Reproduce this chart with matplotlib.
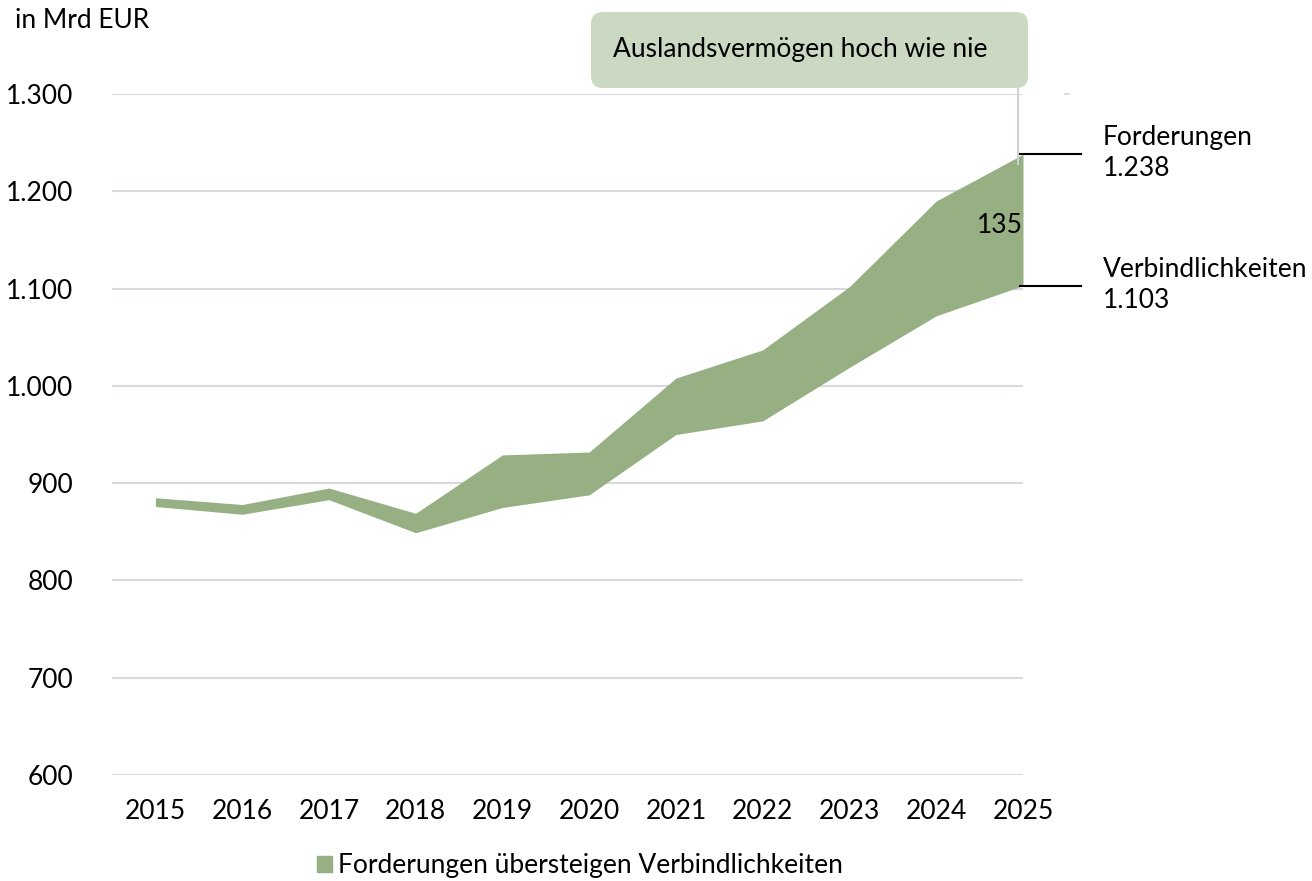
import numpy as np
import matplotlib.pyplot as plt
from matplotlib.patches import FancyBboxPatch, Patch
from matplotlib.lines import Line2D

plt.rcParams['font.family'] = ['Lato', 'DejaVu Sans']

years = [2015, 2016, 2017, 2018, 2019, 2020, 2021, 2022, 2023, 2024, 2025]
forderungen = [885, 878, 895, 869, 929, 932, 1008, 1037, 1102, 1190, 1238]
verbindlichkeiten = [876, 868, 883, 849, 875, 888, 950, 964, 1019, 1072, 1103]
yticks = [600, 700, 800, 900, 1000, 1100, 1200, 1300]
ytick_labels = ["600", "700", "800", "900", "1.000", "1.100", "1.200", "1.300"]

green = "#96af83"
grid_c = "#d6dade"
fs = 19

fig = plt.figure(figsize=(13.12, 8.81), dpi=100)
ax = fig.add_axes([112 / 1312, (881 - 775) / 881, (1023 - 112) / 1312, (775 - 94) / 881])

ax.fill_between(years, verbindlichkeiten, forderungen, color=green, lw=0, zorder=3, clip_on=False)

for t in yticks:
    ax.axhline(t, color=grid_c, lw=1.5, zorder=1)

ax.set_xlim(2014.5, 2025)
ax.set_ylim(600, 1300)
ax.set_yticks(yticks)
ax.set_yticklabels(ytick_labels)
ax.set_xticks(years)
ax.set_xticklabels([str(y) for y in years])
ax.tick_params(axis='y', length=0, pad=28, labelsize=fs)
ax.tick_params(axis='x', length=0, pad=17, labelsize=fs)
for s in ax.spines.values():
    s.set_visible(False)

# markers on the right
last_f = forderungen[-1]
last_v = verbindlichkeiten[-1]
for v in (last_f, last_v):
    ax.plot([2024.97, 2025.67], [v, v], color="black", lw=1.5, clip_on=False, zorder=4)

ax.annotate("Forderungen", (2025, last_f), xytext=(80, 17), textcoords='offset pixels',
            ha='left', va='center', fontsize=fs)
ax.annotate(f"{last_f/1000:.3f}", (2025, last_f), xytext=(80, -14), textcoords='offset pixels',
            ha='left', va='center', fontsize=fs)
ax.annotate("Verbindlichkeiten", (2025, last_v), xytext=(80, 16), textcoords='offset pixels',
            ha='left', va='center', fontsize=fs)
ax.annotate(f"{last_v/1000:.3f}", (2025, last_v), xytext=(80, -15), textcoords='offset pixels',
            ha='left', va='center', fontsize=fs)
ax.annotate(str(last_f - last_v), (2025, (last_f + last_v) / 2), xytext=(0, -6),
            textcoords='offset pixels', ha='right', va='center', fontsize=fs, zorder=5)

# title box
box = FancyBboxPatch((5.91, 7.93), 4.37, 0.76, boxstyle="round,pad=0,rounding_size=0.12",
                     transform=fig.dpi_scale_trans, facecolor="#cbd9c3", edgecolor="none")
fig.patches.append(box)
fig.text(6.13, 8.31, "Auslandsvermögen hoch wie nie", transform=fig.dpi_scale_trans,
         ha='left', va='center', fontsize=fs)
fig.lines.append(Line2D([10.18, 10.18], [7.93, 7.17], transform=fig.dpi_scale_trans,
                        color="#cdd2d6", lw=1.5))
fig.lines.append(Line2D([10.65, 10.69], [7.87, 7.87], transform=fig.dpi_scale_trans,
                        color="#d6dade", lw=1.2))

fig.text(0.15, 8.60, "in Mrd EUR", transform=fig.dpi_scale_trans, ha='left', va='center', fontsize=fs)

fig.legend(handles=[Patch(color=green, label="Forderungen übersteigen Verbindlichkeiten")],
           loc='center', bbox_to_anchor=(580 / 1312, 1 - 866 / 881), frameon=False,
           fontsize=fs, handlelength=0.55, handleheight=0.55, handletextpad=0.25)

fig.savefig("out.png", dpi=100)
